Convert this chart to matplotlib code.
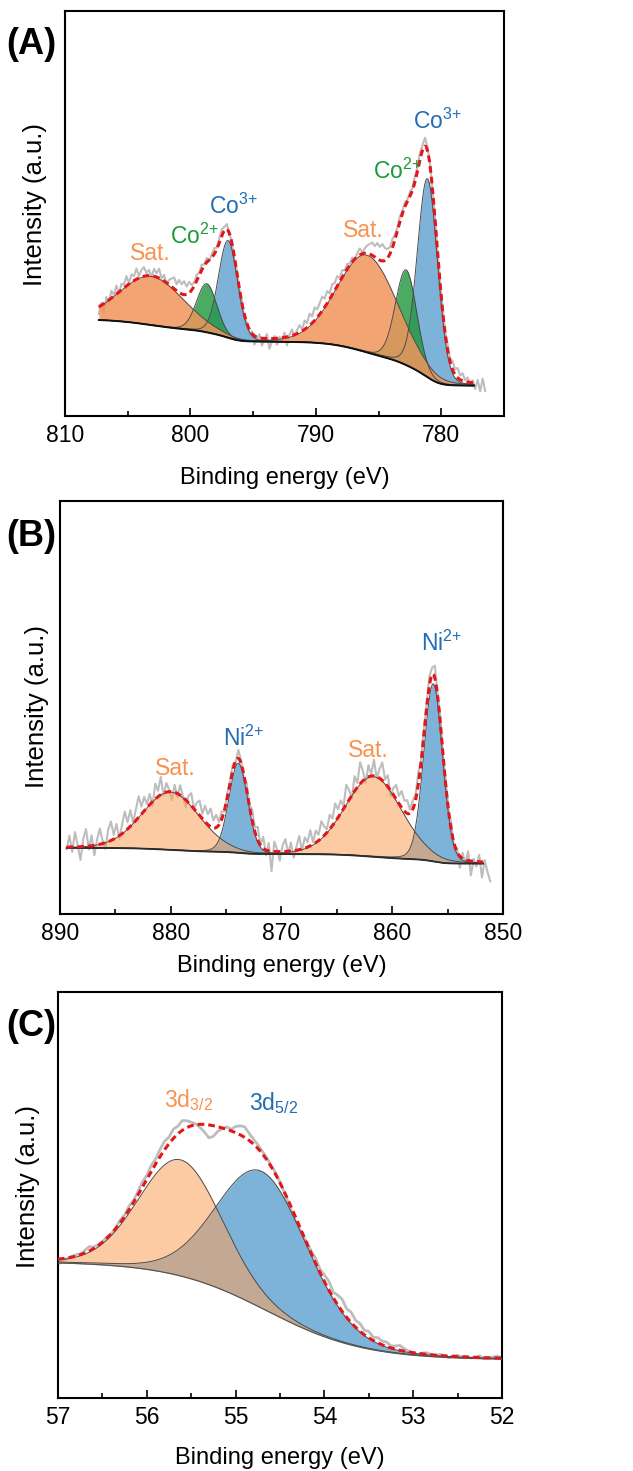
import numpy as np
import matplotlib
matplotlib.use("Agg")
import matplotlib.pyplot as plt
from matplotlib.ticker import MultipleLocator

plt.rcParams["font.family"] = ["Liberation Sans", "DejaVu Sans"]
plt.rcParams["mathtext.fontset"] = "custom"
plt.rcParams["mathtext.rm"] = "Liberation Sans"
plt.rcParams["mathtext.it"] = "Liberation Sans:italic"
plt.rcParams["mathtext.bf"] = "Liberation Sans:bold"

# ---------------- (A) Co 2p ----------------
co_fit_range = (807.3, 777.4)
co_raw_range = (807.3, 776.5)
co_bg_ends = (23.7, 7.5)          # background level at high-BE end, low-BE end
co_kind = ["sat", "co2", "co3", "sat", "co2", "co3"]
co_center = [803.1, 798.7, 797.0, 785.9, 782.8, 781.1]
co_height = [12.0, 12.0, 24.0, 24.0, 23.5, 49.0]
co_fwhm = [6.0, 1.9, 1.8, 5.6, 2.0, 1.9]
co_eta = 0.1
# measured minus fit (gray trace), 0.2 eV steps from 807.3 eV
co_resid = [-1.8, 0.6, -2.4, 1.2, -0.5, 1.8, 0.3, 2.1, -0.4, 1.5,
            0.8, 2.4, 0.2, 1.9, 1.1, 2.6, 0.4, 1.7, 2.2, 0.6,
            1.4, -0.3, 1.8, 0.9, 2.3, 0.2, 1.5, -0.6, 1.2, 2.0,
            2.8, 1.6, 3.1, 2.4, 3.3, 1.9, 2.7, 1.2, 0.8, 1.5,
            0.6, 1.3, 0.2, 1.0, -0.4, 0.7, 1.4, 0.3, 0.9, 1.6,
            0.8, 1.2, -0.3, 0.4, -0.8, 0.5, -0.2, 0.6, -1.1, 0.3,
            -1.4, 0.5, -2.2, -0.6, 0.9, -1.8, -0.3, 1.1, -2.5, -0.7,
            0.6, -1.6, 0.3, -0.9, 1.2, -2.1, 0.4, 1.5, -0.5, 0.9,
            1.8, 0.4, 2.2, 1.1, 2.9, 1.6, 3.2, 2.0, 2.7, 3.5,
            2.1, 3.0, 1.4, 2.6, 1.8, 2.4, 0.9, 1.7, 0.6, 1.2,
            0.4, 1.0, -0.3, 0.8, 1.5, 0.2, 1.1, 1.9, 2.4, 3.1,
            2.6, 3.8, 3.2, 4.1, 3.0, 2.2, 1.6, 2.0, 1.1, 0.7,
            1.2, 0.5, 1.0, 0.3, 0.9, 0.4, 1.3, 0.8, 1.6, 1.0,
            1.9, 0.8, 0.2, -0.5, 0.6, -0.3, 0.5, 1.2, 0.4, 1.5,
            0.8, 2.1, 1.3, 2.4, 1.0, 1.8, 0.3, 1.1, -0.4, 0.6,
            -1.5, 0.8, -2.0, 1.2, -1.8]
co_label_text = ["Sat.", r"Co$^{2{+}}$", r"Co$^{3{+}}$",
                 "Sat.", r"Co$^{2{+}}$", r"Co$^{3{+}}$"]
co_label_kind = ["sat", "co2", "co3", "sat", "co2", "co3"]
co_label_x = [803.2, 799.65, 796.6, 786.25, 783.5, 780.3]
co_label_y = [40.2, 44.3, 51.7, 45.9, 60.3, 72.7]

# ---------------- (B) Ni 2p ----------------
ni_fit_range = (889.4, 851.8)
ni_raw_range = (889.4, 851.15)
ni_bg_ends = (16.0, 12.2)
ni_kind = ["sat", "ni2", "sat", "ni2"]
ni_center = [880.0, 873.9, 861.7, 856.3]
ni_height = [14.0, 21.7, 19.4, 43.0]
ni_fwhm = [6.1, 2.0, 6.0, 2.0]
ni_eta = 0.1
# 0.25 eV steps from 889.4 eV
ni_resid = [-0.5, 2.8, -1.2, 3.6, 0.4, -3.2, 1.9, 4.2, -0.8, 2.5,
            -2.4, 1.3, 3.8, 0.6, -1.5, 2.9, 4.6, 1.0, 3.3, -0.7,
            2.1, 4.8, 1.6, 3.9, 0.2, 2.7, 5.1, 1.8, 3.4, 0.9,
            2.6, -1.0, 3.7, 1.4, 4.3, -0.6, 2.2, 0.5, -2.1, 1.8,
            -0.9, 2.4, 0.3, -1.8, 1.6, 3.0, 0.1, 2.3, 3.6, 1.2,
            3.9, 2.5, 4.4, 1.8, 3.1, 0.7, 1.9, -0.4, 1.2, 0.6,
            1.5, -0.3, 2.0, 0.8, -0.9, 1.7, 0.4, 2.6, 1.1, 3.2,
            0.2, 2.8, -1.3, 1.9, -4.8, 2.4, 0.6, -2.2, 1.5, 3.0,
            -0.6, 2.1, -1.7, 0.9, 3.3, -0.4, 2.6, 1.2, 3.8, 0.5,
            2.9, 1.4, 4.1, 2.2, 0.8, 3.5, 1.7, 4.4, 2.0, 3.1,
            0.6, 4.7, 2.3, -0.8, 3.6, 1.0, 5.2, 2.4, -1.1, 2.8,
            0.4, 3.9, -0.5, 2.2, 4.3, 0.9, 2.7, -1.4, 1.6, 3.4,
            1.8, 4.0, 2.5, 3.2, 0.9, 2.1, 1.3, 2.8, 0.6, 1.5,
            0.8, 2.2, 1.6, 3.0, 0.4, 1.9, -0.6, 1.2, 0.3, 1.8,
            -1.6, 0.9, -2.8, 1.4, -0.9, 2.3, -3.5, 0.6, -1.2, 1.7,
            -3.8, 0.5, -2.4, -4.6]
ni_label_text = ["Sat.", r"Ni$^{2{+}}$", "Sat.", r"Ni$^{2{+}}$"]
ni_label_kind = ["sat", "ni2", "sat", "ni2"]
ni_label_x = [879.6, 873.45, 862.2, 855.55]
ni_label_y = [35.3, 42.5, 39.7, 65.5]

# ---------------- (C) 3d ----------------
d_fit_range = (57.0, 52.0)
d_raw_range = (57.0, 52.0)
d_bg_ends = (33.6, 9.4)
d_bg_step = (54.65, 0.55)          # midpoint and width of the background step
d_kind = ["d32", "d52"]
d_center = [55.62, 54.70]
d_height = [28.6, 33.7]
d_fwhm = [1.1, 1.2]
d_eta = 0.1
# 0.05 eV steps from 57 eV
d_resid = [-1.2, -0.6, -0.2, 0.1, 0.3, 0.2, 0.6, 1.1, 0.4, 0.2,
           0.1, 0.3, 0.0, 0.2, 0.7, 0.4, 0.9, 0.5, 0.8, 1.3,
           0.9, 1.5, 1.2, 1.8, 2.1, 1.6, 2.3, 1.9, 2.4, 1.7,
           0.9, 0.2, -0.8, -1.9, -3.2, -2.6, -1.1, -0.2, 0.6, 0.4,
           1.5, 2.2, 2.6, 1.8, 1.2, 0.9, 0.6, 0.5, 0.3, 0.4,
           0.2, -0.2, -0.6, -1.1, -0.8, -0.3, 0.2, 0.6, 1.2, 0.9,
           1.6, 2.2, 1.4, 2.4, 3.0, 2.1, 2.6, 1.7, 1.9, 1.1,
           1.6, 0.8, 1.3, 0.9, 1.1, 0.5, 0.8, 1.2, 0.6, 0.2,
           0.0, -0.3, 0.2, 0.4, 0.1, -0.2, 0.3, 0.0, -0.4, 0.1,
           0.3, -0.1, 0.2, -0.2, 0.0, 0.4, -0.3, 0.1, 0.2, 0.5, -0.2]
d_label_text = [r"3d$_{3/2}$", r"3d$_{5/2}$"]
d_label_kind = ["d32", "d52"]
d_label_x = [55.53, 54.57]
d_label_y = [73.4, 72.6]

fill_style = {
    "co3": ("#73ADD6", 0.92), "co2": ("#1E963C", 0.8), "sat": ("#F0965A", 0.85),
    "ni2": ("#73ADD6", 0.92), "sat_l": ("#FBA25C", 0.56),
    "d52": ("#73ADD6", 0.92), "d32": ("#FBA25C", 0.56),
}
text_color = {"sat": "#F7924F", "co2": "#1A9B3A", "co3": "#1F6DB3", "ni2": "#1F6DB3",
              "d32": "#F7924F", "d52": "#1F6DB3"}
draw_order = ["co3", "ni2", "d52", "co2", "sat", "d32"]


def pseudo_voigt(x, c, h, w, eta):
    g = np.exp(-4 * np.log(2) * (x - c) ** 2 / w ** 2)
    l = 1 / (1 + 4 * (x - c) ** 2 / w ** 2)
    return h * ((1 - eta) * g + eta * l)


def model(x, centers, heights, fwhms, eta, bg_ends, bg_step=None):
    comps = [pseudo_voigt(x, c, h, w, eta) for c, h, w in zip(centers, heights, fwhms)]
    total = np.sum(comps, axis=0)
    if bg_step is None:
        # Shirley-type background, x runs from high to low binding energy
        cum = np.cumsum(total[::-1])[::-1]
        frac = (cum - cum[-1]) / (cum[0] - cum[-1])
    else:
        frac = 1 / (1 + np.exp(-(x - bg_step[0]) / bg_step[1]))
    bg = bg_ends[1] + (bg_ends[0] - bg_ends[1]) * frac
    return comps, total, bg


def draw_panel(ax, fit_range, raw_range, bg_ends, kinds, centers, heights, fwhms, eta,
               resid, sat_key, bg_color, bg_lw, raw_lw, bg_step=None):
    xr = np.linspace(raw_range[0], raw_range[1], len(resid))
    _, tot_r, bg_r = model(xr, centers, heights, fwhms, eta, bg_ends, bg_step)
    ax.plot(xr, bg_r + tot_r + np.array(resid), color="#BDBDBD", lw=raw_lw, zorder=1)

    x = np.linspace(fit_range[0], fit_range[1], 1200)
    comps, total, bg = model(x, centers, heights, fwhms, eta, bg_ends, bg_step)
    order = sorted(range(len(kinds)), key=lambda i: draw_order.index(kinds[i]))
    for i in order:
        key = sat_key if kinds[i] == "sat" else kinds[i]
        col, a = fill_style[key]
        ax.fill_between(x, bg, bg + comps[i], color=col, alpha=a, lw=0, zorder=2)
        ax.plot(x, bg + comps[i], color="#4A4A4A", lw=0.7, zorder=3)
    ax.plot(x, bg, color=bg_color, lw=bg_lw, zorder=4)
    ax.plot(x, bg + total, color="#E3161C", lw=2.2, ls=(0, (2.2, 1.3)), zorder=5)


def style_axes(ax, xlim, major, minor, ylab_pos, xlab_y):
    ax.set_xlim(*xlim)
    ax.set_ylim(0, 100)
    ax.set_yticks([])
    ax.xaxis.set_major_locator(MultipleLocator(major))
    ax.xaxis.set_minor_locator(MultipleLocator(minor))
    ax.tick_params(axis="x", which="major", direction="in", length=6, width=1.2,
                   labelsize=16.5, pad=6, top=False)
    ax.tick_params(axis="x", which="minor", direction="in", length=3.5, width=1.2, top=False)
    for s in ax.spines.values():
        s.set_linewidth(1.5)
    ax.set_xlabel("Binding energy (eV)", fontsize=17)
    ax.xaxis.label.set_verticalalignment("center")
    ax.xaxis.set_label_coords(0.5, xlab_y)
    ax.set_ylabel("Intensity (a.u.)", fontsize=18.5)
    ax.yaxis.label.set_verticalalignment("center")
    ax.yaxis.set_label_coords(*ylab_pos)


def add_labels(ax, texts, kinds, xs, ys):
    for t, k, x, y in zip(texts, kinds, xs, ys):
        ax.text(x, y, t, color=text_color[k], fontsize=16.5, ha="center", va="center", zorder=6)


W, H = 633, 1471
fig = plt.figure(figsize=(W / 100, H / 100), dpi=100)

axA = fig.add_axes([65 / W, 1 - 416 / H, 439 / W, 405 / H])
draw_panel(axA, co_fit_range, co_raw_range, co_bg_ends, co_kind, co_center, co_height,
           co_fwhm, co_eta, co_resid, "sat", "#111111", 1.4, 1.5)
style_axes(axA, (810, 775), 10, 5, (-0.068, 0.523), -0.153)
add_labels(axA, co_label_text, co_label_kind, co_label_x, co_label_y)

axB = fig.add_axes([60 / W, 1 - 914 / H, 443 / W, 413 / H])
draw_panel(axB, ni_fit_range, ni_raw_range, ni_bg_ends, ni_kind, ni_center, ni_height,
           ni_fwhm, ni_eta, ni_resid, "sat_l", "#2B2B2B", 1.3, 1.5)
style_axes(axB, (890, 850), 10, 5, (-0.053, 0.502), -0.126)
add_labels(axB, ni_label_text, ni_label_kind, ni_label_x, ni_label_y)

axC = fig.add_axes([58 / W, 1 - 1398 / H, 444 / W, 406 / H])
draw_panel(axC, d_fit_range, d_raw_range, d_bg_ends, d_kind, d_center, d_height,
           d_fwhm, d_eta, d_resid, "sat_l", "#555555", 0.9, 2.0, bg_step=d_bg_step)
style_axes(axC, (57, 52), 1, 0.5, (-0.067, 0.52), -0.148)
add_labels(axC, d_label_text, d_label_kind, d_label_x, d_label_y)

for lab, y in [("(A)", 45), ("(B)", 536), ("(C)", 1027)]:
    fig.text(31 / W, 1 - y / H, lab, fontsize=26, fontweight="bold", ha="center", va="center")

fig.savefig("out.png", dpi=100)
